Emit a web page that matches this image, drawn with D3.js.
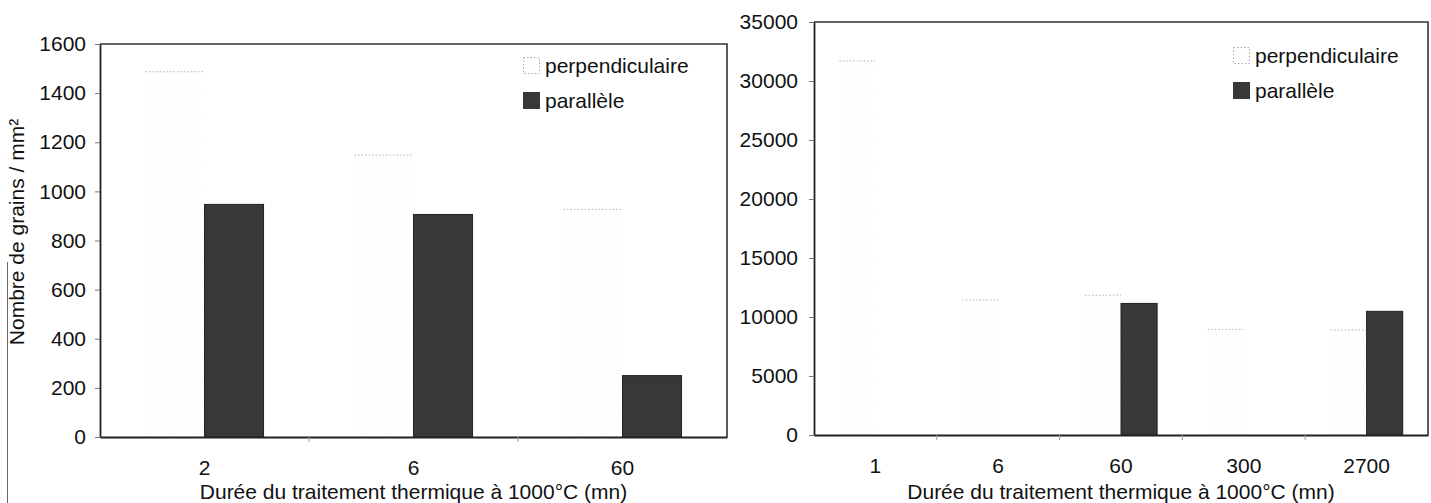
<!DOCTYPE html>
<html lang="fr">

<head>
    <meta charset="UTF-8">
    <title>Nombre de grains</title>
    <script src="https://d3js.org/d3.v7.min.js"></script>
    <style>
        body { margin: 0; background: #fff; }
        text { font-family: "Liberation Sans", Arial, sans-serif; fill: #111; }
    </style>
</head>

<body>
    <div id="chart"></div>

    <script>
        // data
        const seriesNames = ["perpendiculaire", "parallèle"];

        const leftCategories = ["2", "6", "60"];
        const leftPerp = [1487, 1148, 927];
        const leftPar = [947, 906, 250];
        const leftTicks = [0, 200, 400, 600, 800, 1000, 1200, 1400, 1600];

        const rightCategories = ["1", "6", "60", "300", "2700"];
        const rightPerp = [31700, 11450, 11850, 8950, 8900];
        const rightPar = [null, null, 11150, null, 10480];
        const rightTicks = [0, 5000, 10000, 15000, 20000, 25000, 30000, 35000];

        const xTitle = "Durée du traitement thermique à 1000°C (mn)";
        const yTitle = "Nombre de grains / mm²";

        const W = 1431, H = 503;
        const svg = d3.select("#chart").append("svg")
            .attr("width", W)
            .attr("height", H);

        // very faint dotted fill used for the "perpendiculaire" bars
        const defs = svg.append("defs");
        const pat = defs.append("pattern")
            .attr("id", "dots")
            .attr("patternUnits", "userSpaceOnUse")
            .attr("width", 6)
            .attr("height", 6);
        pat.append("rect").attr("width", 6).attr("height", 6).attr("fill", "#fff");
        pat.append("rect").attr("x", 1).attr("y", 1).attr("width", 1).attr("height", 1).attr("fill", "#f1f1f1");
        pat.append("rect").attr("x", 4).attr("y", 4).attr("width", 1).attr("height", 1).attr("fill", "#f4f4f4");

        // thin scan border at far left
        svg.append("line")
            .attr("x1", 7.5).attr("x2", 7.5)
            .attr("y1", 262).attr("y2", H)
            .attr("stroke", "#666").attr("stroke-width", 1);

        function drawChart(cfg) {
            const g = svg.append("g");

            const x = d3.scaleBand()
                .domain(cfg.categories)
                .range([cfg.left, cfg.right]);

            const xSub = d3.scaleBand()
                .domain(seriesNames)
                .range([0, x.bandwidth()])
                .paddingOuter(cfg.pad);

            const y = d3.scaleLinear()
                .domain([0, cfg.max])
                .range([cfg.bottom, cfg.top]);

            // frame: top and right edges
            g.append("path")
                .attr("d", `M${cfg.left},${cfg.top}H${cfg.right}V${cfg.bottom}`)
                .attr("fill", "none")
                .attr("stroke", "#333")
                .attr("stroke-width", 1.6);

            const rows = cfg.categories.map((c, i) => ({ cat: c, perp: cfg.perp[i], par: cfg.par[i] }));

            // perpendiculaire bars (almost white in the scan)
            g.selectAll("rect.perp").data(rows.filter(d => d.perp != null)).join("rect")
                .attr("class", "perp")
                .attr("x", d => x(d.cat) + xSub("perpendiculaire"))
                .attr("y", d => y(d.perp))
                .attr("width", xSub.bandwidth())
                .attr("height", d => cfg.bottom - y(d.perp))
                .attr("fill", "url(#dots)");

            g.selectAll("line.perp-top").data(rows.filter(d => d.perp != null)).join("line")
                .attr("class", "perp-top")
                .attr("x1", d => x(d.cat) + xSub("perpendiculaire"))
                .attr("x2", d => x(d.cat) + xSub("perpendiculaire") + xSub.bandwidth())
                .attr("y1", d => y(d.perp))
                .attr("y2", d => y(d.perp))
                .attr("stroke", "#b0b0b0")
                .attr("stroke-width", 1)
                .attr("stroke-dasharray", "1.5,2");

            // parallèle bars
            g.selectAll("rect.par").data(rows.filter(d => d.par != null)).join("rect")
                .attr("class", "par")
                .attr("x", d => x(d.cat) + xSub("parallèle"))
                .attr("y", d => y(d.par))
                .attr("width", xSub.bandwidth())
                .attr("height", d => cfg.bottom - y(d.par))
                .attr("fill", "#383838")
                .attr("stroke", "#222")
                .attr("stroke-width", 1);

            // y axis
            const yAxis = g.append("g")
                .attr("transform", `translate(${cfg.left},0)`)
                .call(d3.axisLeft(y).tickValues(cfg.ticks).tickFormat(d3.format("d"))
                    .tickSize(5).tickPadding(cfg.tickPad).tickSizeOuter(0));
            yAxis.select(".domain").attr("stroke", "#222").attr("stroke-width", 1.8);
            yAxis.selectAll(".tick line").attr("stroke", "#777");
            yAxis.selectAll("text").attr("font-size", 21).attr("fill", "#111")
                .style("font-family", "'Liberation Sans', Arial, sans-serif");

            // x axis: labels at band centres, small ticks at band edges
            const xAxis = g.append("g")
                .attr("transform", `translate(0,${cfg.bottom})`)
                .call(d3.axisBottom(x).tickSize(0).tickPadding(23).tickSizeOuter(0));
            xAxis.select(".domain").attr("stroke", "#222").attr("stroke-width", 2);
            xAxis.selectAll("text").attr("font-size", 21).attr("fill", "#111")
                .style("font-family", "'Liberation Sans', Arial, sans-serif");

            g.selectAll("line.sep").data(cfg.categories.slice(1)).join("line")
                .attr("class", "sep")
                .attr("x1", d => x(d)).attr("x2", d => x(d))
                .attr("y1", cfg.bottom).attr("y2", cfg.bottom + 5)
                .attr("stroke", "#999");

            g.append("text")
                .attr("x", (cfg.left + cfg.right) / 2)
                .attr("y", 499)
                .attr("text-anchor", "middle")
                .attr("font-size", 21)
                .text(xTitle);

            // legend
            const lg = g.append("g").attr("transform", `translate(${cfg.legX},${cfg.legY})`);
            lg.append("rect")
                .attr("x", 0.5).attr("y", 0.5).attr("width", 16).attr("height", 16)
                .attr("fill", "url(#dots)")
                .attr("stroke", "#aaa")
                .attr("stroke-dasharray", "1.5,2");
            lg.append("text")
                .attr("x", 22).attr("y", 8.5).attr("dy", "0.35em")
                .attr("font-size", 21)
                .text(seriesNames[0]);
            lg.append("rect")
                .attr("x", 0).attr("y", 35).attr("width", 17).attr("height", 17)
                .attr("fill", "#383838");
            lg.append("text")
                .attr("x", 22).attr("y", 43.5).attr("dy", "0.35em")
                .attr("font-size", 21)
                .text(seriesNames[1]);
        }

        drawChart({
            categories: leftCategories, perp: leftPerp, par: leftPar, ticks: leftTicks,
            max: 1600, left: 100, right: 727, top: 44, bottom: 437,
            pad: 0.77, tickPad: 9, legX: 523, legY: 57
        });

        drawChart({
            categories: rightCategories, perp: rightPerp, par: rightPar, ticks: rightTicks,
            max: 35000, left: 814, right: 1428, top: 22, bottom: 435,
            pad: 0.7, tickPad: 11, legX: 1233, legY: 47
        });

        // y axis title (left panel only)
        svg.append("text")
            .attr("transform", "translate(24,232) rotate(-90)")
            .attr("text-anchor", "middle")
            .attr("font-size", 21)
            .text(yTitle);
    </script>
</body>

</html>
